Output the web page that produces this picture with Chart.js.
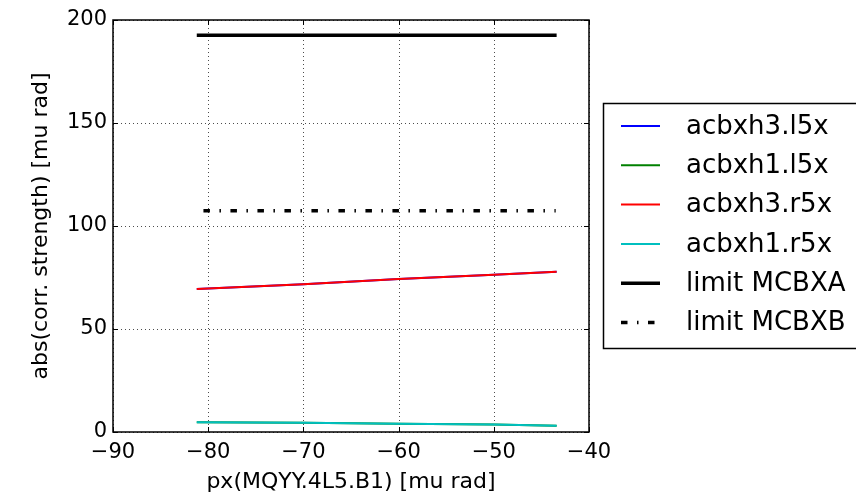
<!DOCTYPE html>
<html>
<head>
<meta charset="utf-8">
<script src="https://cdn.jsdelivr.net/npm/chart.js@4/dist/chart.umd.min.js"></script>
<style>
  html, body { margin: 0; padding: 0; background: #fff; }
  #wrap { width: 856px; height: 496px; }
</style>
</head>
<body>
<div id="wrap"><canvas id="canvas" width="856" height="496"></canvas></div>
<script>
// corrector strengths vs. crossing angle
var pxValues    = [-81.2, -70, -60, -50, -43.4];
var acbxh3_l5x  = [69.4, 71.7, 74.3, 76.3, 77.8];
var acbxh1_l5x  = [4.7, 4.5, 4.0, 3.7, 3.0];
var acbxh3_r5x  = [69.4, 71.7, 74.3, 76.3, 77.8];
var acbxh1_r5x  = [4.7, 4.5, 4.0, 3.7, 3.0];

var limitA_x = [-81.2, -43.4];
var limitA_y = [192.6, 192.6];
var limitB_x = [-80.5, -43.5];
var limitB_y = [107.4, 107.4];

var xTicks = [-90, -80, -70, -60, -50, -40];
var yTicks = [0, 50, 100, 150, 200];

var xTitle = 'px(MQYY.4L5.B1) [mu rad]';
var yTitle = 'abs(corr. strength) [mu rad]';

var FONT = '"DejaVu Sans", sans-serif';

var pts = function(xs, ys) {
  var out = [];
  for (var i = 0; i < xs.length; i++) out.push({x: xs[i], y: ys[i]});
  return out;
};

var line = function(label, xs, ys, color, width, dash, order) {
  return {
    label: label,
    data: pts(xs, ys),
    borderColor: color,
    backgroundColor: color,
    borderWidth: width,
    borderDash: dash || [],
    borderCapStyle: 'butt',
    pointRadius: 0,
    tension: 0,
    fill: false,
    order: order
  };
};

var minus = function(v) { return String(v).replace('-', '\u2212'); };

// grid, inward ticks and the full box around the plot
var framePlugin = {
  id: 'frame',
  beforeDatasetsDraw: function(chart) {
    var ctx = chart.ctx, a = chart.chartArea;
    var xs = chart.scales.x, ys = chart.scales.y;
    ctx.save();
    ctx.strokeStyle = 'rgba(0,0,0,0.7)';
    ctx.lineWidth = 1;
    ctx.setLineDash([1, 3]);
    xTicks.forEach(function(t) {
      var px = Math.round(xs.getPixelForValue(t)) + 0.5;
      ctx.beginPath(); ctx.moveTo(px, a.top); ctx.lineTo(px, a.bottom); ctx.stroke();
    });
    yTicks.forEach(function(t) {
      var py = Math.round(ys.getPixelForValue(t)) + 0.5;
      ctx.beginPath(); ctx.moveTo(a.left, py); ctx.lineTo(a.right, py); ctx.stroke();
    });
    ctx.restore();
  },
  afterDatasetsDraw: function(chart) {
    var ctx = chart.ctx, a = chart.chartArea;
    var xs = chart.scales.x, ys = chart.scales.y;
    ctx.save();
    ctx.strokeStyle = '#000';
    ctx.lineWidth = 1;
    xTicks.forEach(function(t) {
      var px = Math.round(xs.getPixelForValue(t)) + 0.5;
      ctx.beginPath();
      ctx.moveTo(px, a.bottom); ctx.lineTo(px, a.bottom - 5);
      ctx.moveTo(px, a.top); ctx.lineTo(px, a.top + 5);
      ctx.stroke();
    });
    yTicks.forEach(function(t) {
      var py = Math.round(ys.getPixelForValue(t)) + 0.5;
      ctx.beginPath();
      ctx.moveTo(a.left, py); ctx.lineTo(a.left + 5, py);
      ctx.moveTo(a.right, py); ctx.lineTo(a.right - 5, py);
      ctx.stroke();
    });
    ctx.lineWidth = 1.5;
    ctx.strokeRect(a.left, a.top, a.right - a.left, a.bottom - a.top);

    // axis titles
    ctx.fillStyle = '#000';
    ctx.font = '22px ' + FONT;
    ctx.textAlign = 'center';
    ctx.textBaseline = 'middle';
    ctx.fillText(xTitle, (a.left + a.right) / 2, 482);
    ctx.translate(41, (a.top + a.bottom) / 2);
    ctx.rotate(-Math.PI / 2);
    ctx.fillText(yTitle, 0, 0);
    ctx.restore();
  }
};

// legend box to the right of the plot
var legendPlugin = {
  id: 'sideLegend',
  afterDraw: function(chart) {
    var ctx = chart.ctx;
    var sets = chart.data.datasets;
    ctx.save();
    ctx.fillStyle = '#fff';
    ctx.fillRect(603, 103, 270, 245);
    ctx.strokeStyle = '#000';
    ctx.lineWidth = 1.5;
    ctx.strokeRect(603.5, 103.5, 270, 245);
    ctx.font = '26px ' + FONT;
    ctx.textAlign = 'left';
    ctx.textBaseline = 'middle';
    for (var i = 0; i < sets.length; i++) {
      var y = 126 + i * 39.3;
      var ds = sets[i];
      ctx.strokeStyle = ds.borderColor;
      ctx.lineWidth = ds.borderWidth;
      ctx.lineCap = 'butt';
      ctx.setLineDash(ds.borderDash);
      ctx.beginPath(); ctx.moveTo(621, y); ctx.lineTo(660, y); ctx.stroke();
      ctx.setLineDash([]);
      ctx.fillStyle = '#000';
      ctx.fillText(ds.label, 686, y + 1);
    }
    ctx.restore();
  }
};

new Chart(document.getElementById('canvas').getContext('2d'), {
  type: 'line',
  data: {
    datasets: [
      line('acbxh3.l5x', pxValues, acbxh3_l5x, '#0000ff', 2, null, 6),
      line('acbxh1.l5x', pxValues, acbxh1_l5x, '#008000', 2, null, 5),
      line('acbxh3.r5x', pxValues, acbxh3_r5x, '#ff0000', 2, null, 4),
      line('acbxh1.r5x', pxValues, acbxh1_r5x, '#00bfbf', 2, null, 3),
      line('limit MCBXA', limitA_x, limitA_y, '#000000', 3.5, null, 2),
      line('limit MCBXB', limitB_x, limitB_y, '#000000', 3.5, [6.5, 9.5, 1.5, 9.5], 1)
    ]
  },
  options: {
    responsive: false,
    animation: false,
    layout: { padding: { left: 0, top: 20, right: 267, bottom: 0 } },
    plugins: { legend: { display: false }, tooltip: { enabled: false } },
    scales: {
      x: {
        type: 'linear',
        min: -90, max: -40,
        afterBuildTicks: function(s) { s.ticks = xTicks.map(function(v) { return {value: v}; }); },
        afterFit: function(s) { s.height = 64; },
        grid: { display: false, drawTicks: false },
        border: { display: false },
        ticks: {
          color: '#000', padding: 8, maxRotation: 0,
          font: { family: FONT, size: 21 },
          callback: function(v) { return minus(v); }
        }
      },
      y: {
        type: 'linear',
        min: 0, max: 200,
        afterBuildTicks: function(s) { s.ticks = yTicks.map(function(v) { return {value: v}; }); },
        afterFit: function(s) { s.width = 113; },
        grid: { display: false, drawTicks: false },
        border: { display: false },
        ticks: {
          color: '#000', padding: 6,
          font: { family: FONT, size: 21 },
          callback: function(v) { return minus(v); }
        }
      }
    }
  },
  plugins: [framePlugin, legendPlugin]
});
</script>
</body>
</html>
